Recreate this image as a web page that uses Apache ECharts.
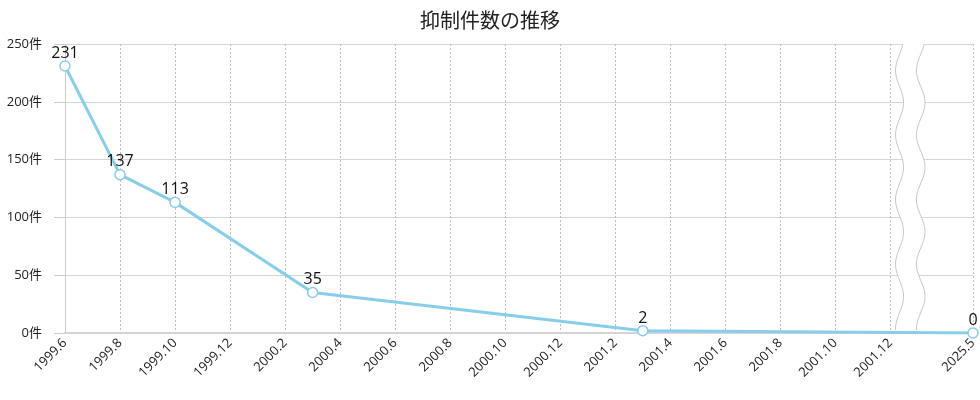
<!DOCTYPE html>
<html>
<head>
<meta charset="utf-8">
<title>抑制件数の推移</title>
<script src="https://cdn.jsdelivr.net/npm/echarts@6/dist/echarts.min.js"></script>
<style>
  html, body { margin: 0; padding: 0; background: #fff; }
  #chart { width: 980px; height: 400px; }
</style>
</head>
<body>
<div id="chart"></div>
<script>
// 月ごとのカテゴリ (2002.1, 2002.2 は省略部分なので空ラベル)
var months = [
  '1999.6', '1999.7', '1999.8', '1999.9', '1999.10', '1999.11', '1999.12',
  '2000.1', '2000.2', '2000.3', '2000.4', '2000.5', '2000.6', '2000.7', '2000.8',
  '2000.9', '2000.10', '2000.11', '2000.12',
  '2001.1', '2001.2', '2001.3', '2001.4', '2001.5', '2001.6', '2001.7', '2001.8',
  '2001.9', '2001.10', '2001.11', '2001.12',
  '2002.1', '2002.2', '2025.5'
];
// 目盛りに表示するラベル
var tickLabels = [
  '1999.6', '1999.8', '1999.10', '1999.12', '2000.2', '2000.4', '2000.6', '2000.8',
  '2000.10', '2000.12', '2001.2', '2001.4', '2001.6', '2001.8', '2001.10', '2001.12',
  '2025.5'
];
// 実データ
var pointDates = ['1999.6', '1999.8', '1999.10', '2000.3', '2001.3', '2025.5'];
var counts = [231, 137, 113, 35, 2, 0];

var yTicks = [0, 50, 100, 150, 200, 250];

var lineColor = '#87CEEB';
var fontFamily = '"Open Sans", "Noto Sans CJK JP", sans-serif';

var myChart = echarts.init(document.getElementById('chart'));

function showTick(index, value) {
  return tickLabels.indexOf(months[index]) >= 0;
}

var option = {
  animation: false,
  textStyle: { fontFamily: fontFamily },
  title: {
    text: '抑制件数の推移',
    left: 'center',
    top: 7,
    textStyle: { fontSize: 20, fontWeight: 'normal', color: '#222', fontFamily: fontFamily }
  },
  grid: { left: 65, right: 7, top: 44, bottom: 67 },
  xAxis: {
    type: 'category',
    data: months,
    boundaryGap: false,
    axisLine: { lineStyle: { color: '#d4d4d4', width: 2 } },
    axisTick: { show: false, interval: showTick },
    axisLabel: {
      interval: showTick,
      rotate: 45,
      margin: 8,
      fontSize: 13,
      color: '#222',
      fontFamily: fontFamily
    },
    splitLine: {
      show: true,
      interval: showTick,
      lineStyle: { color: '#bdbdbd', type: [2, 2], width: 1 }
    }
  },
  yAxis: {
    type: 'value',
    min: yTicks[0],
    max: yTicks[yTicks.length - 1],
    interval: 50,
    axisLine: { show: true, lineStyle: { color: '#cccccc', width: 1 } },
    axisTick: { show: true, length: 11, lineStyle: { color: '#cccccc' } },
    axisLabel: {
      formatter: '{value}件',
      margin: 23,
      fontSize: 13,
      color: '#222',
      fontFamily: fontFamily
    },
    splitLine: { lineStyle: { color: '#d6d6d6', width: 1 } }
  },
  series: [{
    type: 'line',
    data: pointDates.map(function (d, i) { return [d, counts[i]]; }),
    z: 5,
    lineStyle: { color: lineColor, width: 3 },
    symbol: 'circle',
    symbolSize: 10,
    itemStyle: { color: '#fff', borderColor: lineColor, borderWidth: 1.5 },
    label: {
      show: true,
      position: 'top',
      distance: -1,
      fontSize: 16,
      color: '#111',
      fontFamily: fontFamily
    }
  }]
};

myChart.setOption(option);

// 省略線（波線）を描く
function drawBreak() {
  var x0 = myChart.convertToPixel({ xAxisIndex: 0 }, '2001.12');
  var x1 = myChart.convertToPixel({ xAxisIndex: 0 }, '2002.1');
  var step = x1 - x0;
  var top = myChart.convertToPixel({ yAxisIndex: 0 }, yTicks[yTicks.length - 1]);
  var bottom = myChart.convertToPixel({ yAxisIndex: 0 }, 0) - 1.5;
  var h = bottom - top;
  var period = h / 4.45;
  var phase = h * 0.204;

  function wave(cx, amp) {
    var pts = [];
    for (var y = top; y <= bottom + 0.01; y += 2) {
      pts.push([cx + amp * Math.cos(2 * Math.PI * (y - top - phase) / period), y]);
    }
    return pts;
  }
  var left = wave(x0 + step * 0.33, 4);
  var right = wave(x0 + step * 1.1, 4.3);
  var band = left.concat(right.slice().reverse());

  myChart.setOption({
    graphic: [
      { type: 'polygon', z: 3, shape: { points: band }, style: { fill: '#fff' }, silent: true },
      { type: 'polyline', z: 4, shape: { points: left }, style: { stroke: '#c8c8c8', lineWidth: 1, fill: null }, silent: true },
      { type: 'polyline', z: 4, shape: { points: right }, style: { stroke: '#c8c8c8', lineWidth: 1, fill: null }, silent: true }
    ]
  });
}
drawBreak();

window.onresize = function () {
  myChart.resize();
  drawBreak();
};
</script>
</body>
</html>
